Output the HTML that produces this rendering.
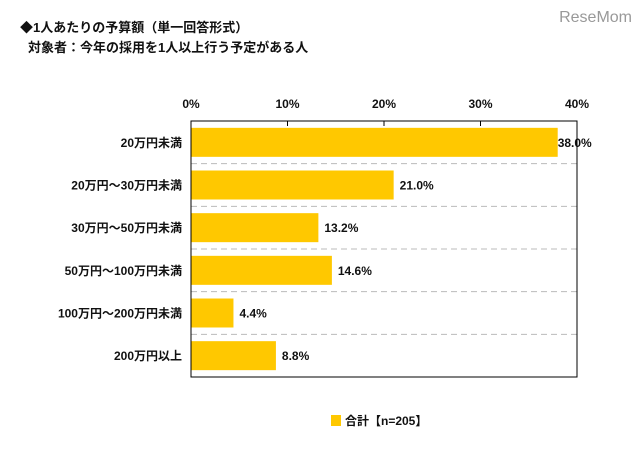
<!DOCTYPE html>
<html><head><meta charset="utf-8"><style>
body{margin:0;background:#fff;}
svg text{font-family:"Liberation Sans","Noto Sans CJK JP",sans-serif;font-weight:bold;fill:#111;}
</style></head><body>
<svg width="640" height="453" viewBox="0 0 640 453">
<text x="20" y="32" font-size="13">◆1人あたりの予算額（単一回答形式）</text>
<text x="28" y="52" font-size="13">対象者：今年の採用を1人以上行う予定がある人</text>
<text x="632" y="22" font-size="16" text-anchor="end" style="font-weight:normal;fill:#999">ReseMom</text>
<g id="plot"></g>
<rect x="331" y="415" width="10" height="11" fill="#FFC800"/>
<text x="345" y="425" font-size="12">合計【n=205】</text>
</svg>
<script>
const categories=["20万円未満","20万円～30万円未満","30万円～50万円未満","50万円～100万円未満","100万円～200万円未満","200万円以上"];
const values=[38.0,21.0,13.2,14.6,4.4,8.8];
const ticks=[0,10,20,30,40];
const g=document.getElementById('plot');
const NS='http://www.w3.org/2000/svg';
const x0=191,x1=577,y0=121,y1=377,max=40;
const xs=v=>x0+(x1-x0)*v/max;
const band=(y1-y0)/categories.length;
function el(t,a){const e=document.createElementNS(NS,t);for(const k in a)e.setAttribute(k,a[k]);g.appendChild(e);return e;}
ticks.forEach(t=>{
 const tx=el('text',{x:xs(t),y:108,'font-size':12,'text-anchor':'middle'});tx.textContent=t+'%';
 
 
 const tl=el('line',{x1:xs(t),x2:xs(t),y1:y0,y2:y0+5,stroke:'#000'});
 
 
});
for(let i=1;i<categories.length;i++){
 const l=el('line',{x1:x0,x2:x1,y1:y0+band*i,y2:y0+band*i,stroke:'#bbb','stroke-dasharray':'6,4'});
 
 
}
categories.forEach((c,i)=>{
 const cy=y0+band*(i+0.5);
 const b=el('rect',{x:x0,y:cy-14.5,width:xs(values[i])-x0,height:29,fill:'#FFC800'});
 
 
 const lb=el('text',{x:182,y:cy+4.5,'font-size':12,'text-anchor':'end'});lb.textContent=c;
 
 
 const v=el('text',{x:xs(values[i])+(i===0?0:6),y:cy+4.5,'font-size':12});v.textContent=values[i].toFixed(1)+'%';
 
 
});
const box=el('rect',{x:x0,y:y0,width:x1-x0,height:y1-y0,fill:'none',stroke:'#000','stroke-width':1});


</script>
</body></html>
